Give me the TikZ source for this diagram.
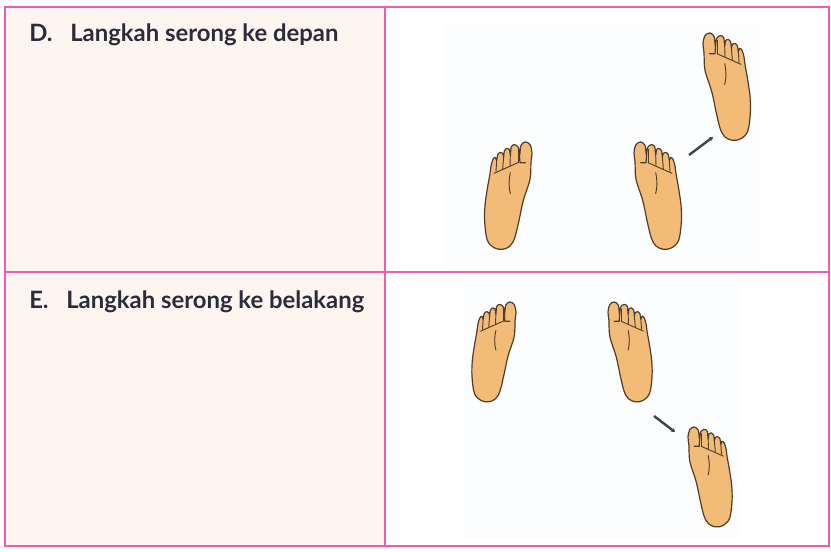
\documentclass[tikz,border=0pt]{standalone}
\usepackage{fontspec}
\setmainfont{Lato}
\usetikzlibrary{arrows.meta}
\definecolor{pinkline}{HTML}{EE5DB0}
\definecolor{cellfill}{HTML}{FDF5F0}
\definecolor{skin}{HTML}{F2BC78}
\definecolor{outline}{HTML}{4F3D2A}
\definecolor{inktext}{HTML}{2B2B3A}
\definecolor{photo}{HTML}{FCFDFE}
\tikzset{
  x=0.75pt,y=-0.75pt,
  cellrule/.style={draw=pinkline,line width=1.4pt},
  heading/.style={anchor=base west,inner sep=0pt,text=inktext,font=\fontsize{17.9}{20}\selectfont\bfseries},
  steparrow/.style={draw=inktext!90!white,line width=1.8pt,-{Stealth[length=2.6pt,width=3.8pt]}},
  footline/.style={draw=outline,line width=0.9pt,line join=round,line cap=round},
  toeline/.style={draw=outline,line width=0.7pt,line cap=round},
  solefoot/.pic={
    \begin{scope}[x=0.25pt,y=-0.25pt]
    \path[footline,fill=skin] plot[smooth cycle,tension=0.55] coordinates {
      (3,60) (0,32) (6,8) (20,0) (33,10) (37,38)
      (41,16) (52,8) (62,14) (65,38)
      (68,22) (75,19) (83,27) (85,44)
      (88,34) (95,31) (103,38) (106,55)
      (110,46) (117,52) (123,72) (126,95)
      (134,140) (141,190) (142,240) (134,295) (112,318) (88,322) (66,312) (52,288)
      (40,240) (26,175) (6,112)};
    \draw[footline] (38,36) -- (36,62) -- (20,62);
    \draw[toeline] (42,22) -- (42,62);
    \draw[toeline] (65,38) -- (66,72);
    \draw[toeline] (85,44) -- (88,80);
    \draw[toeline] (106,55) -- (108,88);
    \draw[toeline] (42,62) -- (114,94);
    \draw[toeline] (65,92) .. controls (70,115) and (70,135) .. (65,155);
    \end{scope}
  }
}
\begin{document}
\begin{tikzpicture}
\useasboundingbox (0,0) rectangle (831,552);
\fill[white] (0,0) rectangle (831,552);
\fill[cellfill] (5,7) rectangle (385,546);
\fill[photo] (445,25) rectangle (760,265);
\fill[photo] (465,285) rectangle (740,540);
\draw[cellrule] (5,7) rectangle (829,546);
\draw[cellrule] (385,7) -- (385,546);
\draw[cellrule] (5,272) -- (829,272);

\node[heading] (dlabel) at (29,42) {D.};
\node[heading] (dtext) at (70,42) {Langkah serong ke depan};
\node[heading] (elabel) at (29,308.5) {E.};
\node[heading] (etext) at (66,308.5) {Langkah serong ke belakang};

% D row
\pic at (532,142) [xscale=-1] {solefoot};
\pic at (634,142) {solefoot};
\pic at (703,33) {solefoot};
\coordinate (da) at (689,155);
\coordinate (db) at (713,137);
\draw[steparrow] (da) -- (db);

% E row
\pic at (516,302) [xscale=-0.93,yscale=0.93] {solefoot};
\pic at (608,302) [xscale=0.93,yscale=0.93] {solefoot};
\pic at (688,427) [xscale=0.93,yscale=0.93] {solefoot};
\coordinate (ea) at (654,416);
\coordinate (eb) at (675,432);
\draw[steparrow] (ea) -- (eb);
\end{tikzpicture}
\end{document}
